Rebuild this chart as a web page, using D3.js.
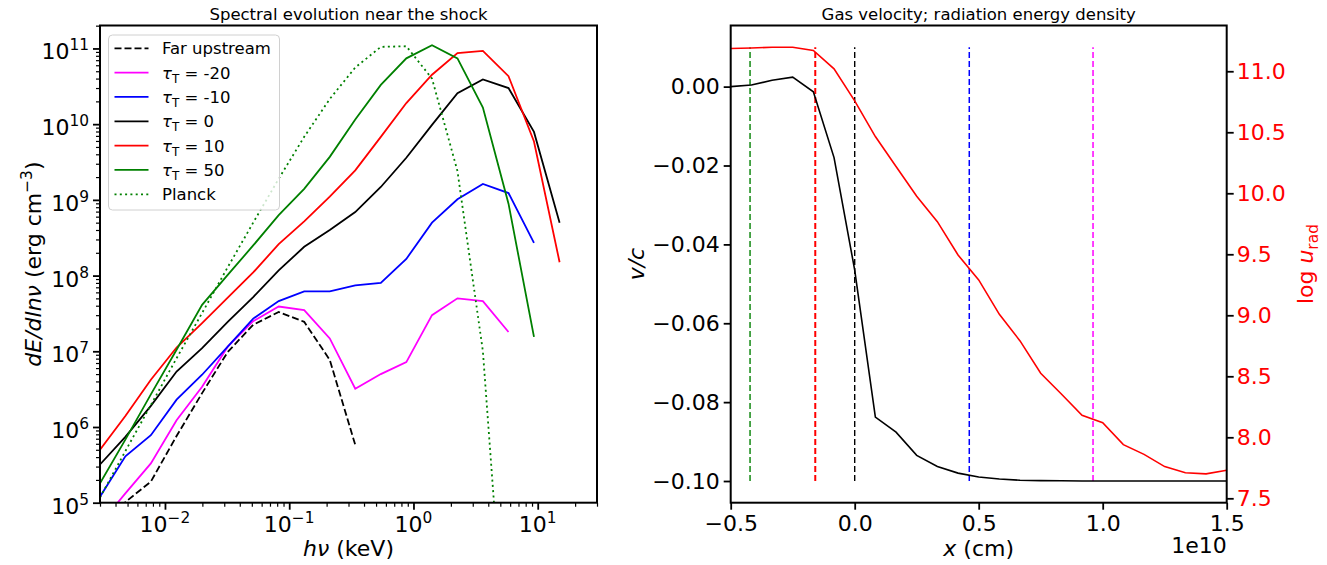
<!DOCTYPE html>
<html>
<head>
<meta charset="utf-8">
<script src="https://cdnjs.cloudflare.com/ajax/libs/d3/7.8.5/d3.min.js"></script>
<style>
body { margin: 0; background: #fff; }
svg { font-family: 'DejaVu Sans', sans-serif; }
</style>
</head>
<body>
<div id="chart"></div>
<script>
// ---- left panel: spectra (keV, erg cm^-3) ----
var energies = [0.003, 0.0048, 0.0077, 0.0124, 0.0199, 0.032, 0.0513, 0.0823, 0.132, 0.212,
    0.34, 0.546, 0.876, 1.41, 2.26, 3.62, 5.82, 9.33, 15.0];

var farUpstream = [4.6e4, 1.02e5, 1.9e5, 7.6e5, 2.8e6, 9.8e6, 2.24e7, 3.3e7, 2.45e7, 7.7e6, 5.8e5];
var tauM20 = [5.2e4, 1.33e5, 3.3e5, 1.23e6, 3.4e6, 1.15e7, 2.5e7, 3.9e7, 3.5e7, 1.48e7, 3.2e6,
    5.0e6, 7.2e6, 3.0e7, 5.0e7, 4.6e7, 1.8e7];
var tauM10 = [1.2e5, 4.1e5, 7.8e5, 2.3e6, 4.9e6, 1.15e7, 2.7e7, 4.6e7, 6.2e7, 6.2e7, 7.4e7,
    8.0e7, 1.66e8, 5.0e8, 1.02e9, 1.62e9, 1.23e9, 2.7e8];
var tau0 = [3.2e5, 7.4e5, 1.9e6, 5.4e6, 1.1e7, 2.45e7, 5.2e7, 1.17e8, 2.4e8, 4.0e8, 6.9e8,
    1.48e9, 3.6e9, 9.8e9, 2.57e10, 3.9e10, 3.0e10, 7.9e9, 5.0e8];
var tau10 = [5.0e5, 1.4e6, 4.2e6, 1.12e7, 2.35e7, 5.1e7, 1.1e8, 2.6e8, 5.2e8, 1.1e9, 2.45e9,
    6.8e9, 1.9e10, 4.5e10, 8.7e10, 9.3e10, 4.3e10, 5.9e9, 1.5e8];
var tau50 = [1.8e5, 6.8e5, 2.7e6, 1.05e7, 4.1e7, 1.02e8, 2.5e8, 6.3e8, 1.4e9, 3.7e9, 1.15e10,
    3.3e10, 7.4e10, 1.1e11, 7.4e10, 1.66e10, 8.9e8, 1.55e7];
var planck = [1.17e5, 4.8e5, 1.95e6, 8.1e6, 3.2e7, 1.29e8, 5.0e8, 1.9e9, 6.8e9, 2.15e10, 5.6e10,
    1.05e11, 1.07e11, 4.0e10, 2.4e9, 1.0e7, 2.4e2];

// ---- right panel: profiles along x (cm) ----
var xCm = [-5.0e9, -4.167e9, -3.333e9, -2.5e9, -1.667e9, -0.833e9, 0, 0.833e9, 1.667e9, 2.5e9,
    3.333e9, 4.167e9, 5.0e9, 5.833e9, 6.667e9, 7.5e9, 8.333e9, 9.167e9, 1.0e10, 1.0833e10,
    1.1667e10, 1.25e10, 1.3333e10, 1.4167e10, 1.5e10];
var velocity = [0.0, 0.0004, 0.0016, 0.0024, -0.0013, -0.018, -0.0465, -0.0838, -0.0876, -0.0935,
    -0.0963, -0.098, -0.099, -0.0995, -0.0998, -0.0999, -0.09995, -0.1, -0.1, -0.1,
    -0.1, -0.1, -0.1, -0.1, -0.1];
var logUrad = [11.186, 11.19, 11.197, 11.197, 11.17, 11.02, 10.757, 10.465, 10.22, 9.975,
    9.767, 9.494, 9.29, 9.008, 8.79, 8.525, 8.355, 8.18, 8.12, 7.94,
    7.86, 7.76, 7.71, 7.70, 7.73];
var shockX = [-4.22e9, -1.59e9, 0, 4.62e9, 9.61e9];
var shockColors = ['#008000', '#ff0000', '#000000', '#0000ff', '#ff00ff'];
var shockWidths = [1.4, 2, 1.4, 1.5, 1.5];

var width = 1327, height = 565;
var tickFont = 22;

var svg = d3.select('#chart')
    .append('svg')
    .attr('width', width)
    .attr('height', height);

// =============== left panel ===============
var L = {left: 100, right: 597, top: 25.5, bottom: 502.7};

var xSpec = d3.scaleLog().domain([0.003, 30]).range([L.left, L.right]);
var ySpec = d3.scaleLog().domain([1e5, 2.01e11]).range([L.bottom, L.top]);

var isMajor = function (v) {
    var l = Math.log10(v);
    return Math.abs(l - Math.round(l)) < 1e-9;
};

var xMajor = xSpec.ticks().filter(isMajor);
var xMinor = xSpec.ticks().filter(function (v) { return !isMajor(v); });
var yMajor = ySpec.ticks().filter(isMajor);
var yMinor = ySpec.ticks().filter(function (v) { return !isMajor(v) && v <= ySpec.domain()[1]; });

svg.append('defs').append('clipPath')
    .attr('id', 'clipSpec')
    .append('rect')
    .attr('x', L.left).attr('y', L.top)
    .attr('width', L.right - L.left).attr('height', L.bottom - L.top);

function styleAxis(g, w) {
    g.select('.domain').remove();
    g.selectAll('.tick line').attr('stroke', '#000').attr('stroke-width', w);
}

svg.append('g')
    .attr('transform', 'translate(0,' + L.bottom + ')')
    .call(d3.axisBottom(xSpec).tickValues(xMajor).tickSize(7).tickFormat(''))
    .call(styleAxis, 1.8);
svg.append('g')
    .attr('transform', 'translate(0,' + L.bottom + ')')
    .call(d3.axisBottom(xSpec).tickValues(xMinor).tickSize(4).tickFormat(''))
    .call(styleAxis, 1.2);
svg.append('g')
    .attr('transform', 'translate(' + L.left + ',0)')
    .call(d3.axisLeft(ySpec).tickValues(yMajor).tickSize(7).tickFormat(''))
    .call(styleAxis, 1.8);
svg.append('g')
    .attr('transform', 'translate(' + L.left + ',0)')
    .call(d3.axisLeft(ySpec).tickValues(yMinor).tickSize(4).tickFormat(''))
    .call(styleAxis, 1.2);

function powText(sel) {
    sel.append('tspan').text('10');
    sel.append('tspan')
        .attr('dy', -9)
        .attr('font-size', 15.4)
        .text(function (d) {
            var e = Math.round(Math.log10(d));
            return e < 0 ? '\u2212' + (-e) : e;
        });
}

svg.append('g').selectAll('text')
    .data(xMajor)
    .enter()
    .append('text')
    .attr('x', function (d) { return xSpec(d); })
    .attr('y', 532)
    .attr('text-anchor', 'middle')
    .attr('font-size', tickFont)
    .call(powText);

svg.append('g').selectAll('text')
    .data(yMajor)
    .enter()
    .append('text')
    .attr('x', L.left - 11)
    .attr('y', function (d) { return ySpec(d) + 11; })
    .attr('text-anchor', 'end')
    .attr('font-size', tickFont)
    .call(powText);

var specLine = d3.line()
    .x(function (d) { return xSpec(d[0]); })
    .y(function (d) { return ySpec(d[1]); });

var spectra = [
    {label: 'Far upstream', values: farUpstream, color: '#000000', dash: '7,3'},
    {label: '-20', values: tauM20, color: '#ff00ff', dash: null},
    {label: '-10', values: tauM10, color: '#0000ff', dash: null},
    {label: '0', values: tau0, color: '#000000', dash: null},
    {label: '10', values: tau10, color: '#ff0000', dash: null},
    {label: '50', values: tau50, color: '#008000', dash: null},
    {label: 'Planck', values: planck, color: '#008000', dash: '2,3.3'}
];

var plotSpec = svg.append('g').attr('clip-path', 'url(#clipSpec)');
plotSpec.selectAll('path')
    .data(spectra)
    .enter()
    .append('path')
    .attr('fill', 'none')
    .attr('stroke', function (d) { return d.color; })
    .attr('stroke-width', 1.8)
    .attr('stroke-dasharray', function (d) { return d.dash; })
    .attr('d', function (d) {
        return specLine(d.values.map(function (v, i) { return [energies[i], v]; }));
    });

svg.append('rect')
    .attr('x', L.left).attr('y', L.top)
    .attr('width', L.right - L.left).attr('height', L.bottom - L.top)
    .attr('fill', 'none').attr('stroke', '#000').attr('stroke-width', 2);

// legend
var legend = svg.append('g').attr('font-size', 16.5);
legend.append('rect')
    .attr('x', 108.5).attr('y', 35)
    .attr('width', 171).attr('height', 175)
    .attr('rx', 4)
    .attr('fill', '#fff').attr('fill-opacity', 0.8)
    .attr('stroke', '#d0d0d0').attr('stroke-width', 1);

var rows = legend.selectAll('.row')
    .data(spectra)
    .enter()
    .append('g')
    .attr('class', 'row')
    .attr('transform', function (d, i) { return 'translate(0,' + (48.3 + i * 24.33) + ')'; });

rows.append('line')
    .attr('x1', 114.5).attr('x2', 148.5)
    .attr('stroke', function (d) { return d.color; })
    .attr('stroke-width', 1.8)
    .attr('stroke-dasharray', function (d) { return d.dash; });

rows.append('text')
    .attr('x', 162)
    .attr('y', 6)
    .each(function (d) {
        var t = d3.select(this);
        if (d.label === 'Far upstream' || d.label === 'Planck') {
            t.text(d.label);
            return;
        }
        t.append('tspan').attr('font-style', 'italic').text('\u03c4');
        t.append('tspan').attr('dy', 4).attr('font-size', 12).text('T');
        t.append('tspan').attr('dy', -4).text(' = ' + d.label);
    });

// titles and labels
svg.append('text')
    .attr('x', (L.left + L.right) / 2).attr('y', 20)
    .attr('text-anchor', 'middle').attr('font-size', 16.5)
    .text('Spectral evolution near the shock');

var xl = svg.append('text')
    .attr('x', (L.left + L.right) / 2).attr('y', 556)
    .attr('text-anchor', 'middle').attr('font-size', tickFont);
xl.append('tspan').attr('font-style', 'italic').text('h\u03bd');
xl.append('tspan').text(' (keV)');

var yl = svg.append('text')
    .attr('transform', 'translate(41,' + ((L.top + L.bottom) / 2) + ') rotate(-90)')
    .attr('text-anchor', 'middle').attr('font-size', tickFont);
yl.append('tspan').attr('font-style', 'italic').text('dE/dln\u03bd');
yl.append('tspan').text(' (erg cm');
yl.append('tspan').attr('dy', -9).attr('font-size', 15.4).text('\u22123');
yl.append('tspan').attr('dy', 9).text(')');

// =============== right panel ===============
var R = {left: 730.7, right: 1226.7, top: 25.5, bottom: 502.7};

var xPos = d3.scaleLinear().domain([-5e9, 1.5e10]).range([R.left, R.right]);
var yVel = d3.scaleLinear().domain([-0.1055, 0.0155]).range([R.bottom, R.top]);
var yRad = d3.scaleLinear().domain([7.464, 11.375]).range([R.bottom, R.top]);

svg.append('g')
    .attr('transform', 'translate(0,' + R.bottom + ')')
    .call(d3.axisBottom(xPos).tickValues([-5e9, 0, 5e9, 1e10, 1.5e10]).tickSize(7).tickPadding(6)
        .tickFormat(function (d) { return d3.format('.1f')(d / 1e10).replace('-', '\u2212'); }))
    .call(styleAxis, 1.8)
    .selectAll('text').attr('font-size', tickFont).attr('fill', '#000');

svg.append('g')
    .attr('transform', 'translate(' + R.left + ',0)')
    .call(d3.axisLeft(yVel).tickValues([0, -0.02, -0.04, -0.06, -0.08, -0.1]).tickSize(7).tickPadding(4)
        .tickFormat(function (d) { return d3.format('.2f')(d).replace('-', '\u2212'); }))
    .call(styleAxis, 1.8)
    .selectAll('text').attr('font-size', tickFont).attr('fill', '#000');

svg.append('g')
    .attr('transform', 'translate(' + R.right + ',0)')
    .call(d3.axisRight(yRad).tickValues([7.5, 8, 8.5, 9, 9.5, 10, 10.5, 11]).tickSize(7).tickPadding(3)
        .tickFormat(d3.format('.1f')))
    .call(styleAxis, 1.8)
    .selectAll('text').attr('font-size', tickFont).attr('fill', '#ff0000');

svg.selectAll('.tick text').attr('font-family', 'DejaVu Sans');

// shock position markers
svg.append('g').selectAll('line')
    .data(shockX)
    .enter()
    .append('line')
    .attr('x1', function (d) { return xPos(d); })
    .attr('x2', function (d) { return xPos(d); })
    .attr('y1', yVel(-0.1))
    .attr('y2', yVel(0.01))
    .attr('stroke', function (d, i) { return shockColors[i]; })
    .attr('stroke-width', function (d, i) { return shockWidths[i]; })
    .attr('stroke-dasharray', '6,3');

var velLine = d3.line()
    .x(function (d, i) { return xPos(xCm[i]); })
    .y(function (d) { return yVel(d); });
var radLine = d3.line()
    .x(function (d, i) { return xPos(xCm[i]); })
    .y(function (d) { return yRad(d); });

svg.append('path')
    .datum(velocity)
    .attr('fill', 'none').attr('stroke', '#000').attr('stroke-width', 1.6)
    .attr('d', velLine);
svg.append('path')
    .datum(logUrad)
    .attr('fill', 'none').attr('stroke', '#ff0000').attr('stroke-width', 1.6)
    .attr('d', radLine);

svg.append('rect')
    .attr('x', R.left).attr('y', R.top)
    .attr('width', R.right - R.left).attr('height', R.bottom - R.top)
    .attr('fill', 'none').attr('stroke', '#000').attr('stroke-width', 2);

svg.append('text')
    .attr('x', (R.left + R.right) / 2).attr('y', 20)
    .attr('text-anchor', 'middle').attr('font-size', 16.5)
    .text('Gas velocity; radiation energy density');

var rx = svg.append('text')
    .attr('x', (R.left + R.right) / 2).attr('y', 556)
    .attr('text-anchor', 'middle').attr('font-size', tickFont);
rx.append('tspan').attr('font-style', 'italic').text('x');
rx.append('tspan').text(' (cm)');

svg.append('text')
    .attr('x', R.right).attr('y', 553)
    .attr('text-anchor', 'end').attr('font-size', tickFont)
    .text('1e10');

svg.append('text')
    .attr('transform', 'translate(644,' + ((R.top + R.bottom) / 2) + ') rotate(-90)')
    .attr('text-anchor', 'middle').attr('font-size', tickFont)
    .attr('font-style', 'italic')
    .text('v/c');

var ry = svg.append('text')
    .attr('transform', 'translate(1313,' + ((R.top + R.bottom) / 2) + ') rotate(-90)')
    .attr('text-anchor', 'middle').attr('font-size', tickFont)
    .attr('fill', '#ff0000');
ry.append('tspan').text('log ');
ry.append('tspan').attr('font-style', 'italic').text('u');
ry.append('tspan').attr('dy', 5).attr('font-size', 15.4).text('rad');
</script>
</body>
</html>
